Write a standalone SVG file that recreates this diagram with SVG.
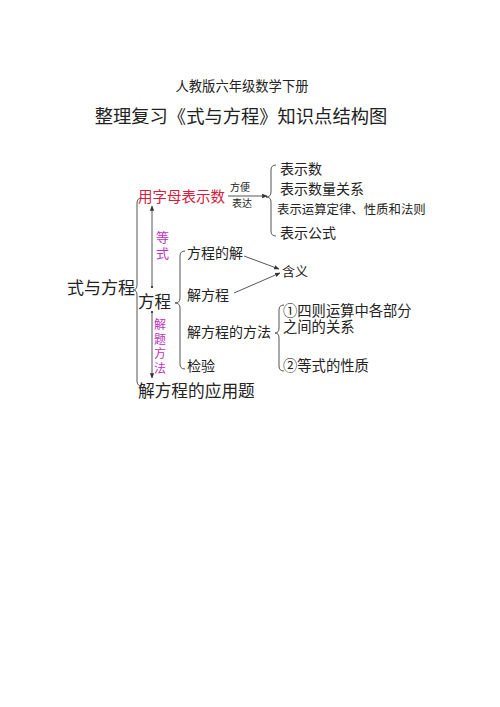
<svg xmlns="http://www.w3.org/2000/svg" width="500" height="707" viewBox="0 0 500 707">
<style>
text{font-family:"Liberation Sans","Noto Sans CJK SC","Noto Sans CJK TC",sans-serif;fill:#222}
.red{fill:#d42040}
.mag{fill:#c030c0}
.br{fill:none;stroke:#555;stroke-width:1}
.ln{fill:none;stroke:#444;stroke-width:0.9}
</style>
<defs>
<marker id="ah" viewBox="0 0 10 10" refX="9" refY="5" markerWidth="6" markerHeight="6" orient="auto-start-reverse"><path d="M0,1 L10,5 L0,9 z" fill="#333"/></marker>
<marker id="dot" viewBox="0 0 10 10" refX="5" refY="5" markerWidth="3" markerHeight="3"><circle cx="5" cy="5" r="4" fill="#333"/></marker>
</defs>
<rect width="500" height="707" fill="#fff"/>
<g id="title">
<text x="242" y="91" font-size="13.3" text-anchor="middle">人教版六年级数学下册</text>
<text x="241" y="123" font-size="18.3" text-anchor="middle">整理复习《式与方程》知识点结构图</text>
</g>
<g id="connectors">
<path class="br" d="M142,198 Q137,198 137,203 L137,285 Q137,290 133,290 Q137,290 137,295 L137,381 Q137,386 142,386"/>
<path class="br" d="M276,165 Q271,165 271,170 L271,192 Q271,197 266,197 Q271,197 271,202 L271,231 Q271,236 276,236"/>
<path class="br" d="M185,251 Q180,251 180,256 L180,298 Q180,303 175,303 Q180,303 180,308 L180,364 Q180,369 185,369"/>
<path class="br" d="M284,305 Q279,305 279,310 L279,328 Q279,333 275,333 Q279,333 279,338 L279,366 Q279,371 284,371"/>
<line class="ln" x1="228" y1="196" x2="267" y2="196" marker-end="url(#ah)"/>
<line class="ln" x1="152" y1="287" x2="152" y2="206" marker-start="url(#dot)" marker-end="url(#ah)"/>
<line class="ln" x1="152" y1="312" x2="152" y2="378" marker-start="url(#dot)" marker-end="url(#ah)"/>
<line class="ln" x1="244" y1="256" x2="279" y2="269" marker-end="url(#ah)"/>
<line class="ln" x1="234" y1="293" x2="280" y2="273" marker-end="url(#ah)"/>
</g>
<g id="n-root"><text x="67" y="294" font-size="17">式与方程</text></g>
<g id="n-yongzimu"><text class="red" x="138" y="202" font-size="14.5">用字母表示数</text></g>
<g id="n-arrowlabel">
<text x="230" y="191" font-size="10">方便</text>
<text x="232" y="207" font-size="10">表达</text>
</g>
<g id="n-biaoshi">
<text x="280" y="174" font-size="14">表示数</text>
<text x="280" y="194" font-size="14">表示数量关系</text>
<text x="277" y="214" font-size="12.4">表示运算定律、性质和法则</text>
<text x="280" y="238" font-size="14">表示公式</text>
</g>
<g id="n-dengshi">
<text class="mag" font-size="13"><tspan x="156" y="242">等</tspan><tspan x="156" y="258">式</tspan></text>
</g>
<g id="n-fangcheng"><text x="138" y="308" font-size="16.5">方程</text></g>
<g id="n-jietifangfa">
<text class="mag" font-size="12"><tspan x="154" y="329">解</tspan><tspan x="154" y="343.5">题</tspan><tspan x="154" y="358">方</tspan><tspan x="154" y="372.5">法</tspan></text>
</g>
<g id="n-yingyongti"><text x="138" y="397" font-size="16.7">解方程的应用题</text></g>
<g id="n-fcdj"><text x="187" y="258" font-size="14">方程的解</text></g>
<g id="n-jfc"><text x="187" y="300" font-size="14">解方程</text></g>
<g id="n-jfcff"><text x="187" y="337" font-size="14">解方程的方法</text></g>
<g id="n-jianyan"><text x="187" y="371" font-size="14">检验</text></g>
<g id="n-hanyi"><text x="282" y="276" font-size="13">含义</text></g>
<g id="n-fangfa">
<text font-size="14.3"><tspan x="283" y="316">①四则运算中各部分</tspan><tspan x="283" y="332">之间的关系</tspan></text>
<text x="283" y="371" font-size="14.3">②等式的性质</text>
</g>
</svg>
